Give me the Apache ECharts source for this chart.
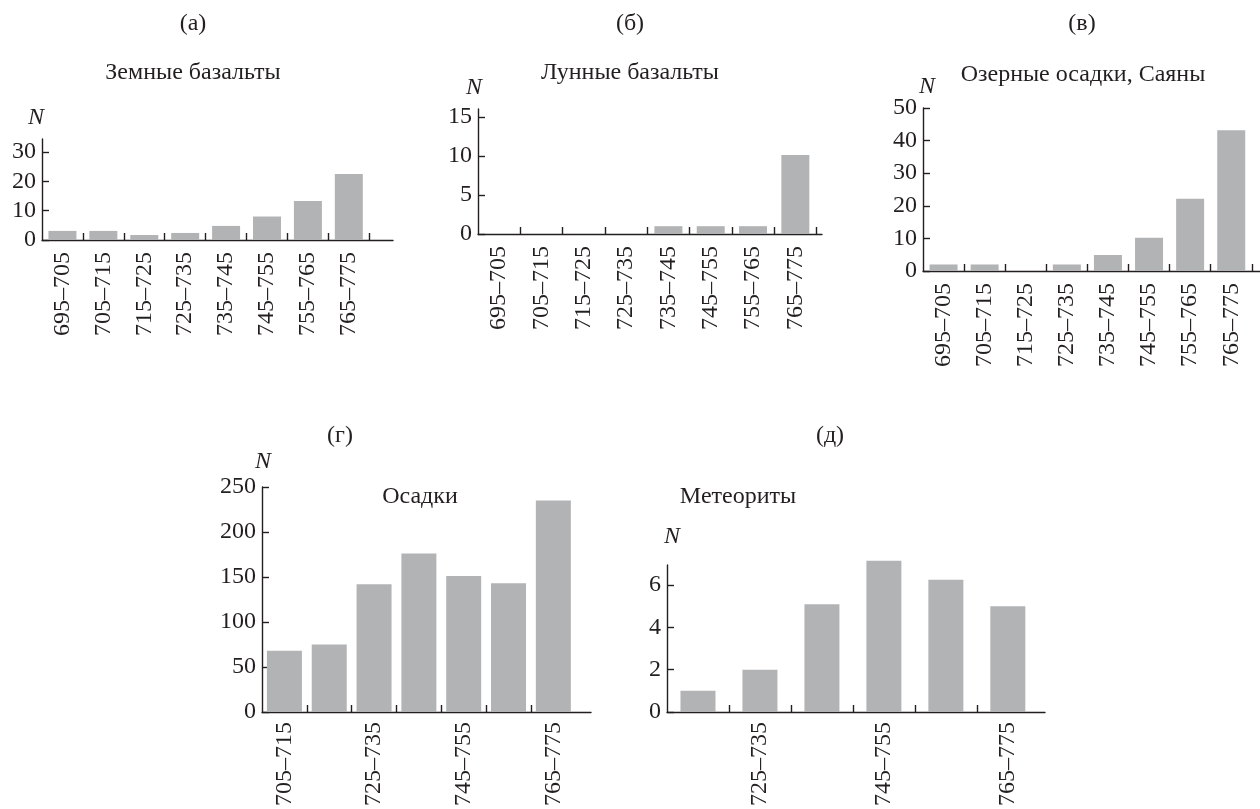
<!DOCTYPE html>
<html><head><meta charset="utf-8">
<script src="https://cdn.jsdelivr.net/npm/echarts@6/dist/echarts.min.js"></script>
<style>html,body{margin:0;padding:0;background:#fff}#c{width:1260px;height:809px}</style>
</head><body><div id="c"></div>
<script>
// ---- data ----
const catsA = ['695–705','705–715','715–725','725–735','735–745','745–755','755–765','765–775'];
const valsA = [3.1, 3.1, 1.7, 2.4, 4.8, 8, 13.3, 22.5];
const yTicksA = [0, 10, 20, 30];

const catsB = ['695–705','705–715','715–725','725–735','735–745','745–755','755–765','765–775'];
const valsB = [0, 0, 0, 0, 1, 1, 1, 10.1];
const yTicksB = [0, 5, 10, 15];

const catsV = ['695–705','705–715','715–725','725–735','735–745','745–755','755–765','765–775'];
const valsV = [2, 2, 0, 2, 4.9, 10.2, 22.2, 43.2];
const yTicksV = [0, 10, 20, 30, 40, 50];

const catsG = ['705–715','715–725','725–735','735–745','745–755','755–765','765–775'];
const valsG = [68, 75, 142, 176, 151, 143, 235];
const yTicksG = [0, 50, 100, 150, 200, 250];
const labelsG = ['705–715','725–735','745–755','765–775'];

const catsD = ['715–725','725–735','735–745','745–755','755–765','765–775'];
const valsD = [1, 2, 5.1, 7.15, 6.25, 5];
const yTicksD = [0, 2, 4, 6];
const labelsD = ['725–735','745–755','765–775'];

const panelLetters = ['(а)','(б)','(в)','(г)','(д)'];
const panelTitles = ['Земные базальты','Лунные базальты','Озерные осадки, Саяны','Осадки','Метеориты'];
const yName = 'N';

// ---- layout / style ----
const FONT = 'Liberation Serif';
const INK = '#231f20';
const BAR = '#b2b3b5';
const FS = 24;

const panels = [
  {cats: catsA, vals: valsA, yTicks: yTicksA, labels: catsA, tickAfterLast: true,
   grid: {left: 42, top: 139, width: 351, height: 101}, xMax: 8.58, yMax: 34.4, barW: 28, lm: 12},
  {cats: catsB, vals: valsB, yTicks: yTicksB, labels: catsB, tickAfterLast: true,
   grid: {left: 478, top: 109, width: 344, height: 125}, xMax: 8.13, yMax: 16, barW: 28, lm: 12},
  {cats: catsV, vals: valsV, yTicks: yTicksV, labels: catsV, tickAfterLast: true,
   grid: {left: 923, top: 108, width: 337, height: 163}, xMax: 8.2, yMax: 50, barW: 28, lm: 12},
  {cats: catsG, vals: valsG, yTicks: yTicksG, labels: labelsG, tickAfterLast: false,
   grid: {left: 262, top: 487, width: 329, height: 226}, xMax: 7.34, yMax: 250, barW: 35, lm: 10},
  {cats: catsD, vals: valsD, yTicks: yTicksD, labels: labelsD, tickAfterLast: false,
   grid: {left: 667, top: 565, width: 378, height: 148}, xMax: 6.1, yMax: 6.95, barW: 35, lm: 10}
];

const textPos = [
  {letter: [193, 24], title: [193, 73], n: [36, 118]},
  {letter: [630, 24], title: [630, 73], n: [474, 88]},
  {letter: [1082, 24], title: [1083, 75], n: [927, 87]},
  {letter: [340, 436], title: [420, 497], n: [263, 462]},
  {letter: [830, 436], title: [738, 497], n: [672, 537]}
];

const grids = [], xAxes = [], yAxes = [], series = [], graphics = [];
panels.forEach((p, i) => {
  grids.push(Object.assign({containLabel: false}, p.grid));
  const nTicks = p.tickAfterLast ? p.cats.length : p.cats.length - 1;
  const tickVals = Array.from({length: nTicks}, (_, k) => k + 1);
  const labelVals = p.labels.map(l => p.cats.indexOf(l) + 0.5);
  xAxes.push({
    gridIndex: i, type: 'value', min: 0, max: p.xMax,
    axisLine: {show: true, onZero: false, lineStyle: {color: INK, width: 1.4}},
    axisTick: {show: true, inside: true, length: 7, customValues: tickVals, lineStyle: {color: INK, width: 1.4}},
    axisLabel: {show: true, customValues: labelVals, rotate: 90, margin: p.lm,
      fontFamily: FONT, fontSize: FS, color: INK,
      formatter: v => p.cats[Math.round(v - 0.5)]},
    splitLine: {show: false}
  });
  yAxes.push({
    gridIndex: i, type: 'value', min: 0, max: p.yMax,
    axisLine: {show: true, lineStyle: {color: INK, width: 1.4}},
    axisTick: {show: true, inside: true, length: 7, customValues: p.yTicks, lineStyle: {color: INK, width: 1.4}},
    axisLabel: {show: true, customValues: p.yTicks, margin: 6,
      fontFamily: FONT, fontSize: FS, color: INK},
    splitLine: {show: false}
  });
  series.push({
    type: 'bar', xAxisIndex: i, yAxisIndex: i, clip: false,
    barWidth: p.barW, itemStyle: {color: BAR},
    data: p.vals.map((v, k) => [k + 0.5, v]),
    silent: true, animation: false
  });
  const t = textPos[i];
  graphics.push(
    {type: 'text', x: t.letter[0], y: t.letter[1], style: {text: panelLetters[i], font: FS + 'px "' + FONT + '"', fill: INK, textAlign: 'center', textVerticalAlign: 'middle'}},
    {type: 'text', x: t.title[0], y: t.title[1], style: {text: panelTitles[i], font: FS + 'px "' + FONT + '"', fill: INK, textAlign: 'center', textVerticalAlign: 'middle'}},
    {type: 'text', x: t.n[0], y: t.n[1], style: {text: yName, font: 'italic ' + FS + 'px "' + FONT + '"', fill: INK, textAlign: 'center', textVerticalAlign: 'middle'}}
  );
});

const chart = echarts.init(document.getElementById('c'), null, {renderer: 'canvas'});
chart.setOption({
  animation: false,
  backgroundColor: '#ffffff',
  grid: grids, xAxis: xAxes, yAxis: yAxes, series: series,
  graphic: graphics
});
</script></body></html>
